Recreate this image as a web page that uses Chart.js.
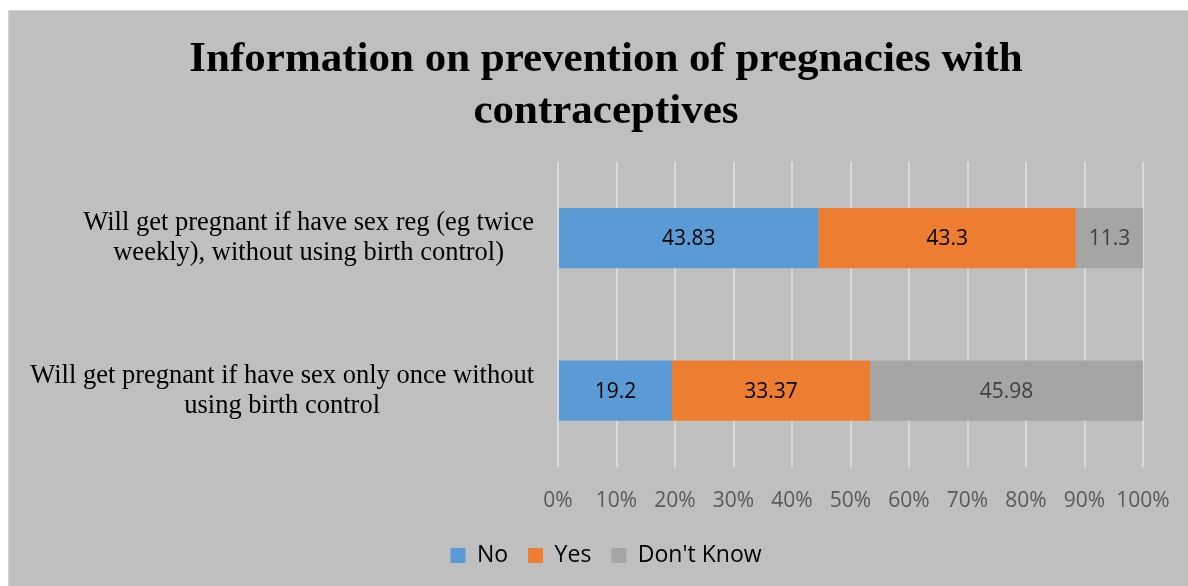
<!DOCTYPE html>
<html>
<head>
<meta charset="utf-8">
<script src="https://cdn.jsdelivr.net/npm/chart.js@4"></script>
<style>
html,body{margin:0;padding:0;background:#fff;}
#wrap{width:1188px;height:586px;position:relative;}
</style>
</head>
<body>
<div id="wrap"><canvas id="c" width="1188" height="586"></canvas></div>
<script>
// ---- Data ----
const categories = [
  ["Will get pregnant if have sex reg (eg twice", "weekly), without using birth control)"],
  ["Will get pregnant if have sex only once without", "using birth control"]
];
const seriesNames = ["No", "Yes", "Don't Know"];
const noValues = [43.83, 19.2];
const yesValues = [43.3, 33.37];
const dontKnowValues = [11.3, 45.98];
const tickValues = [0, 10, 20, 30, 40, 50, 60, 70, 80, 90, 100];
const titleLines = ["Information on prevention of pregnacies with", "contraceptives"];

const colors = ["#5b9bd5", "#ed7d31", "#a5a5a5"];
const labelColors = ["#000000", "#000000", "#404040"];

const rawSeries = [noValues, yesValues, dontKnowValues];
const totals = categories.map((_, i) => rawSeries.reduce((s, arr) => s + arr[i], 0));
const datasets = rawSeries.map((arr, k) => ({
  label: seriesNames[k],
  data: arr.map((v, i) => v / totals[i] * 100),
  raw: arr,
  backgroundColor: colors[k],
  borderWidth: 0,
  categoryPercentage: 0.395,
  barPercentage: 1.0
}));

const bgPlugin = {
  id: 'bg',
  beforeDraw(chart) {
    const ctx = chart.ctx;
    ctx.save();
    ctx.fillStyle = '#ffffff';
    ctx.fillRect(0, 0, chart.width, chart.height);
    ctx.fillStyle = '#bfbfbf';
    ctx.fillRect(9, 10, chart.width - 9, chart.height - 10);
    ctx.strokeStyle = '#d4d4d4';
    ctx.lineWidth = 1;
    ctx.strokeRect(8.5, 10.5, chart.width, chart.height);
    ctx.restore();
  }
};

const labelPlugin = {
  id: 'labels',
  afterDatasetsDraw(chart) {
    const ctx = chart.ctx;
    ctx.save();
    ctx.font = '21px "Open Sans"';
    ctx.textAlign = 'center';
    ctx.textBaseline = 'middle';
    chart.data.datasets.forEach((ds, k) => {
      const meta = chart.getDatasetMeta(k);
      meta.data.forEach((bar, i) => {
        const cx = (bar.x + bar.base) / 2;
        ctx.fillStyle = labelColors[k];
        ctx.fillText(String(ds.raw[i]), cx, bar.y + 1);
      });
    });
    // category labels (centered multi-line, widest line right-aligned)
    const ys = chart.scales.y;
    ctx.font = '26.5px "Liberation Serif"';
    ctx.fillStyle = '#000000';
    const rightEdge = ys.right - 24;
    categories.forEach((lines, i) => {
      const py = ys.getPixelForValue(i);
      const widest = Math.max(...lines.map(l => ctx.measureText(l).width));
      const cx = rightEdge - widest / 2;
      const lh = 30;
      const y0 = py - (lines.length - 1) * lh / 2;
      lines.forEach((l, j) => ctx.fillText(l, cx, y0 + j * lh));
    });
    ctx.restore();
  }
};

new Chart(document.getElementById('c'), {
  type: 'bar',
  data: { labels: categories, datasets },
  plugins: [bgPlugin, labelPlugin],
  options: {
    indexAxis: 'y',
    responsive: false,
    animation: false,
    devicePixelRatio: 1,
    layout: { padding: { left: 24, right: 0, top: 0, bottom: 9 } },
    scales: {
      x: {
        stacked: true,
        min: 0, max: 100,
        afterBuildTicks(scale) { scale.ticks = tickValues.map(v => ({ value: v })); },
        afterFit(scale) { scale.height = 57; scale.paddingRight = 10; scale.paddingLeft = 10; },
        grid: { color: '#d9d9d9', lineWidth: 2, drawTicks: false },
        border: { display: false },
        ticks: {
          padding: 21,
          color: '#595959',
          maxRotation: 0,
          minRotation: 0,
          autoSkip: false,
          font: { family: '"Open Sans"', size: 21 },
          callback: v => v + '%'
        }
      },
      y: {
        stacked: true,
        afterFit(scale) { scale.width = 534; },
        grid: { display: false },
        border: { display: false },
        ticks: { display: false }
      },
      yRight: {
        type: 'linear',
        position: 'right',
        afterFit(scale) { scale.width = 45; },
        grid: { display: false },
        border: { display: false },
        ticks: { display: false }
      }
    },
    plugins: {
      tooltip: { enabled: false },
      title: {
        display: true,
        text: titleLines,
        color: '#000000',
        font: { family: '"Liberation Serif"', size: 43, weight: 'bold', lineHeight: 1.23 },
        padding: { top: 33, bottom: 23 }
      },
      legend: {
        position: 'bottom',
        labels: {
          boxWidth: 15, boxHeight: 15,
          padding: 20,
          color: '#000000',
          font: { family: '"Open Sans"', size: 23 }
        }
      }
    }
  }
});
</script>
</body>
</html>
